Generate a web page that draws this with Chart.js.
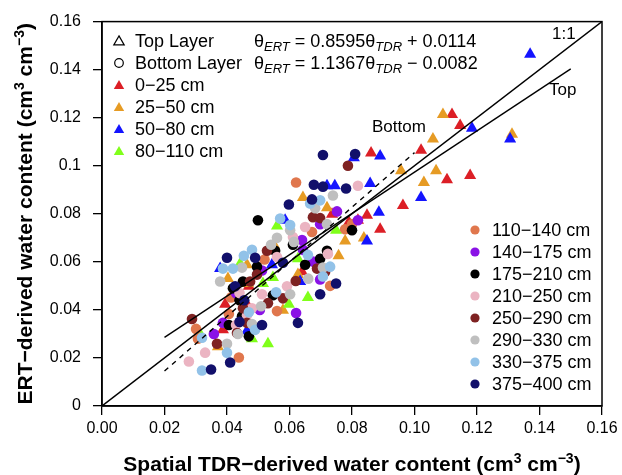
<!DOCTYPE html>
<html><head><meta charset="utf-8">
<script src="https://cdn.jsdelivr.net/npm/chart.js@4.4.1/dist/chart.umd.min.js"></script>
<style>html,body{margin:0;padding:0;background:#fff}#wrap{width:622px;height:475px}</style>
</head><body><div id="wrap"><canvas id="c" width="622" height="475"></canvas></div>
<script>
// ---------- data ----------
const xTicks = [0, 0.02, 0.04, 0.06, 0.08, 0.10, 0.12, 0.14, 0.16];
const yTicks = [0, 0.02, 0.04, 0.06, 0.08, 0.10, 0.12, 0.14, 0.16];
const xTitle = 'Spatial TDR−derived water content';
const yTitle = 'ERT−derived water content';
const layerLabels = ['Top Layer', 'Bottom Layer'];
const topLabels = ['0−25 cm', '25−50 cm', '50−80 cm', '80−110 cm'];
const bottomLabels = ['110−140 cm', '140−175 cm', '175−210 cm', '210−250 cm', '250−290 cm', '290−330 cm', '330−375 cm', '375−400 cm'];
const topColors = ['#dc1f26', '#e69b24', '#1414ff', '#80ff1a'];
const bottomColors = ['#e0774d', '#8a12e6', '#000000', '#ebb4c2', '#7e2222', '#bfbfbf', '#92c2e8', '#12106b'];

// 0-25 cm
const t1x = [0.1120,0.1146,0.0861,0.1021,0.1178,0.1104,0.0963,0.0848,0.0890,0.0819,0.0736,0.0790,0.0640,0.0470,0.0394,0.0387,0.0464];
const t1y = [0.1213,0.1168,0.1053,0.1065,0.0959,0.0942,0.0835,0.0794,0.0736,0.0773,0.0798,0.0765,0.0559,0.0498,0.0424,0.0317,0.0424];
// 25-50 cm
const t2x = [0.1091,0.1059,0.1312,0.0957,0.1069,0.1030,0.0778,0.0838,0.0757,0.0643,0.0720,0.0627,0.0550,0.0464,0.0403,0.0467,0.0579,0.0371];
const t2y = [0.1213,0.1111,0.1131,0.0979,0.0979,0.0930,0.0687,0.0699,0.0625,0.0868,0.0825,0.0547,0.0671,0.0588,0.0531,0.0510,0.0399,0.0247];
// 50-80 cm
const t3x = [0.1370,0.1184,0.1306,0.0890,0.0806,0.1021,0.0886,0.0848,0.0858,0.0720,0.0745,0.0586,0.0378,0.0544,0.0634,0.0464];
const t3y = [0.1464,0.1156,0.1111,0.1041,0.1033,0.0868,0.0806,0.0687,0.0926,0.0917,0.0917,0.0773,0.0572,0.0588,0.0518,0.0313];
// 80-110 cm
const t4x = [0.0560,0.0749,0.0547,0.0659,0.0598,0.0627,0.0442,0.0515,0.0480,0.0531,0.0314];
const t4y = [0.0749,0.0732,0.0535,0.0452,0.0424,0.0613,0.0592,0.0510,0.0280,0.0259,0.0300];
// 110-140 cm
const b1x = [0.0621,0.0778,0.0800,0.0672,0.0301,0.0307,0.0438,0.0560,0.0406,0.0413,0.0520,0.0730];
const b1y = [0.0930,0.0736,0.0757,0.0724,0.0321,0.0280,0.0202,0.0395,0.0383,0.0452,0.0610,0.0500];
// 140-175 cm
const b2x = [0.0752,0.0819,0.0698,0.0640,0.0643,0.0675,0.0698,0.0429,0.0512,0.0621,0.0358,0.0387,0.0505];
const b2y = [0.0810,0.0773,0.0757,0.0691,0.0650,0.0601,0.0527,0.0469,0.0564,0.0387,0.0300,0.0346,0.0400];
// 175-210 cm
const b3x = [0.0499,0.0554,0.0611,0.0720,0.0800,0.0698,0.0650,0.0496,0.0451,0.0419,0.0547,0.0406,0.0448,0.0440,0.0470];
const b3y = [0.0773,0.0646,0.0671,0.0646,0.0732,0.0613,0.0588,0.0580,0.0518,0.0490,0.0461,0.0337,0.0374,0.0440,0.0290];
// 210-250 cm
const b4x = [0.0819,0.0650,0.0611,0.0723,0.0592,0.0512,0.0278,0.0330,0.0480,0.0464,0.0429,0.0560,0.0440];
const b4y = [0.0917,0.0745,0.0703,0.0633,0.0498,0.0465,0.0185,0.0222,0.0407,0.0378,0.0337,0.0620,0.0470];
// 250-290 cm
const b5x = [0.0787,0.0675,0.0698,0.0528,0.0496,0.0474,0.0688,0.0714,0.0579,0.0531,0.0451,0.0288,0.0368,0.0432,0.0464,0.0620];
const b5y = [0.1000,0.0786,0.0782,0.0646,0.0547,0.0518,0.0572,0.0559,0.0448,0.0428,0.0407,0.0362,0.0259,0.0304,0.0346,0.0520];
// 290-330 cm
const b6x = [0.0739,0.0682,0.0720,0.0602,0.0614,0.0541,0.0448,0.0378,0.0509,0.0602,0.0707,0.0400,0.0480,0.0435,0.0560,0.0660];
const b6y = [0.0876,0.0823,0.0757,0.0732,0.0683,0.0671,0.0576,0.0518,0.0415,0.0465,0.0576,0.0259,0.0341,0.0300,0.0700,0.0530];
// 330-375 cm
const b7x = [0.0666,0.0698,0.0602,0.0480,0.0454,0.0387,0.0419,0.0659,0.0730,0.0707,0.0557,0.0490,0.0400,0.0320,0.0320,0.0570,0.0470];
const b7y = [0.0843,0.0856,0.0753,0.0650,0.0625,0.0572,0.0572,0.0629,0.0580,0.0539,0.0473,0.0317,0.0222,0.0148,0.0284,0.0780,0.0390];
// 375-400 cm
const b8x = [0.0810,0.0707,0.0678,0.0707,0.0781,0.0598,0.0672,0.0400,0.0490,0.0579,0.0749,0.0698,0.0426,0.0627,0.0512,0.0410,0.0349,0.0455,0.0440];
const b8y = [0.1049,0.1045,0.0921,0.0913,0.0905,0.0839,0.0860,0.0617,0.0617,0.0596,0.0510,0.0465,0.0498,0.0346,0.0337,0.0181,0.0152,0.0440,0.0350];

// fitted lines: slope, intercept and x range
const oneToOneRange = [0, 0.16];
const topFit = [0.8595, 0.0114];
const topFitRange = [0.02, 0.15];
const bottomFit = [1.1367, -0.0082];
const bottomFitRange = [0.02, 0.10];

// ---------- build ----------
const FONT = '"Liberation Sans", Arial, Helvetica, sans-serif';
const topX = [t1x, t2x, t3x, t4x], topY = [t1y, t2y, t3y, t4y];
const botX = [b1x, b2x, b3x, b4x, b5x, b6x, b7x, b8x], botY = [b1y, b2y, b3y, b4y, b5y, b6y, b7y, b8y];
const pts = (xs, ys) => xs.map((x, i) => ({x: x, y: ys[i]}));
const fitPts = (c, r) => r.map(x => ({x: x, y: c[0] * x + c[1]}));

const datasets = [];
datasets.push({label: '1:1', data: oneToOneRange.map(x => ({x: x, y: x})), showLine: true, pointRadius: 0, borderColor: '#000', borderWidth: 1.4, order: 0});
datasets.push({label: 'Top', data: fitPts(topFit, topFitRange), showLine: true, pointRadius: 0, borderColor: '#000', borderWidth: 1.4, order: 0});
datasets.push({label: 'Bottom', data: fitPts(bottomFit, bottomFitRange), showLine: true, pointRadius: 0, borderColor: '#000', borderWidth: 1.4, borderDash: [5, 5], order: 0});
topLabels.forEach((l, i) => datasets.push({label: l, data: pts(topX[i], topY[i]), pointStyle: 'triangle', pointRadius: 7, backgroundColor: topColors[i], borderColor: topColors[i], borderWidth: 0, showLine: false, order: 100 - i}));
bottomLabels.forEach((l, i) => datasets.push({label: l, data: pts(botX[i], botY[i]), pointStyle: 'circle', pointRadius: 5.3, backgroundColor: bottomColors[i], borderColor: bottomColors[i], borderWidth: 0, showLine: false, order: 90 - i}));

function segW(ctx, s) { ctx.font = (s.style || '') + ' ' + s.size + 'px ' + FONT; return ctx.measureText(s.t).width; }
function drawSegs(ctx, segs, x, y, align) {
  const total = segs.reduce((a, s) => a + segW(ctx, s), 0);
  let cx = align === 'center' ? x - total / 2 : x;
  ctx.textAlign = 'left'; ctx.textBaseline = 'alphabetic'; ctx.fillStyle = '#000';
  for (const s of segs) { const w = segW(ctx, s); ctx.fillText(s.t, cx, y + (s.dy || 0)); cx += w; }
}
function tri(ctx, x, y, r) {
  ctx.beginPath();
  for (let k = 0; k < 3; k++) { const a = -Math.PI / 2 + k * 2 * Math.PI / 3; const px = x + r * Math.cos(a), py = y + r * Math.sin(a) + r * 0.15; k ? ctx.lineTo(px, py) : ctx.moveTo(px, py); }
  ctx.closePath();
}

const deco = {
  id: 'deco',
  afterDraw(chart) {
    const ctx = chart.ctx, a = chart.chartArea;
    ctx.save();
    ctx.strokeStyle = '#000'; ctx.lineWidth = 1.5;
    ctx.strokeRect(a.left, a.top, a.right - a.left, a.bottom - a.top);
    // axis titles
    const B = 21, S = 14;
    drawSegs(ctx, [{t: xTitle + ' (cm', size: B, style: 'bold'}, {t: '3', size: S, style: 'bold', dy: -8}, {t: ' cm', size: B, style: 'bold'}, {t: '−3', size: S, style: 'bold', dy: -8}, {t: ')', size: B, style: 'bold'}], (a.left + a.right) / 2, 471, 'center');
    ctx.save(); ctx.translate(32, (a.top + a.bottom) / 2); ctx.rotate(-Math.PI / 2);
    drawSegs(ctx, [{t: yTitle + ' (cm', size: B, style: 'bold'}, {t: '3', size: S, style: 'bold', dy: -8}, {t: ' cm', size: B, style: 'bold'}, {t: '−3', size: S, style: 'bold', dy: -8}, {t: ')', size: B, style: 'bold'}], 0, 0, 'center');
    ctx.restore();
    // left legend
    const L = 18;
    const rowsY = [41, 63, 85, 107, 129, 151];
    ctx.lineWidth = 1.2; ctx.strokeStyle = '#000';
    tri(ctx, 119, rowsY[0], 6); ctx.stroke();
    ctx.beginPath(); ctx.arc(119, rowsY[1], 4.3, 0, Math.PI * 2); ctx.stroke();
    topLabels.forEach((l, i) => { ctx.fillStyle = topColors[i]; tri(ctx, 119, rowsY[i + 2], 6); ctx.fill(); });
    ctx.textBaseline = 'middle'; ctx.textAlign = 'left'; ctx.fillStyle = '#000'; ctx.font = L + 'px ' + FONT;
    layerLabels.concat(topLabels).forEach((l, i) => ctx.fillText(l, 135, rowsY[i] + 1));
    // equations
    const fmt = (v) => v.toFixed(4);
    const sign = (v) => v < 0 ? ' − ' : ' + ';
    [topFit, bottomFit].forEach((c, i) => {
      drawSegs(ctx, [{t: 'θ', size: L}, {t: 'ERT', size: 13, style: 'italic', dy: 4}, {t: ' = ' + fmt(c[0]) , size: L}, {t: 'θ', size: L}, {t: 'TDR', size: 13, style: 'italic', dy: 4}, {t: sign(c[1]) + fmt(Math.abs(c[1])), size: L}], 254, 47 + 22 * i, 'left');
    });
    // right legend
    const rY = [230, 252, 274, 296, 318, 340, 362, 384];
    bottomLabels.forEach((l, i) => {
      ctx.fillStyle = bottomColors[i]; ctx.beginPath(); ctx.arc(475, rY[i], 4.6, 0, Math.PI * 2); ctx.fill();
      ctx.fillStyle = '#000'; ctx.textBaseline = 'middle'; ctx.textAlign = 'left'; ctx.font = L + 'px ' + FONT; ctx.fillText(l, 492, rY[i] + 1);
    });
    // line labels
    ctx.font = '17px ' + FONT; ctx.textBaseline = 'alphabetic'; ctx.fillStyle = '#000';
    ctx.fillText('1:1', 552, 39);
    ctx.fillText('Top', 549, 95);
    ctx.fillText('Bottom', 372, 132);
    ctx.restore();
  }
};

const yFmt = v => v === 0 ? '0' : String(parseFloat(v.toFixed(2)));
new Chart(document.getElementById('c'), {
  type: 'scatter',
  data: {datasets: datasets},
  options: {
    responsive: false, animation: false, devicePixelRatio: 1,
    layout: {padding: {top: 17, right: 20, left: 0, bottom: 0}},
    plugins: {legend: {display: false}, tooltip: {enabled: false}},
    scales: {
      x: {type: 'linear', min: 0, max: 0.16,
        afterBuildTicks: s => { s.ticks = xTicks.map(v => ({value: v})); },
        afterFit: s => { s.height = 69; },
        ticks: {callback: v => v.toFixed(2), font: {size: 16, family: FONT}, color: '#000', padding: 4, maxRotation: 0, autoSkip: false},
        grid: {display: true, drawOnChartArea: false, drawTicks: true, tickLength: 9, color: '#000', lineWidth: 1.3},
        border: {display: true, color: '#000', width: 1.5}},
      y: {type: 'linear', min: 0, max: 0.16,
        afterBuildTicks: s => { s.ticks = yTicks.map(v => ({value: v})); },
        afterFit: s => { s.width = 102; },
        ticks: {callback: yFmt, font: {size: 16, family: FONT}, color: '#000', padding: 12, autoSkip: false},
        grid: {display: true, drawOnChartArea: false, drawTicks: true, tickLength: 9, color: '#000', lineWidth: 1.3},
        border: {display: true, color: '#000', width: 1.5}}
    }
  },
  plugins: [deco]
});
</script></body></html>
